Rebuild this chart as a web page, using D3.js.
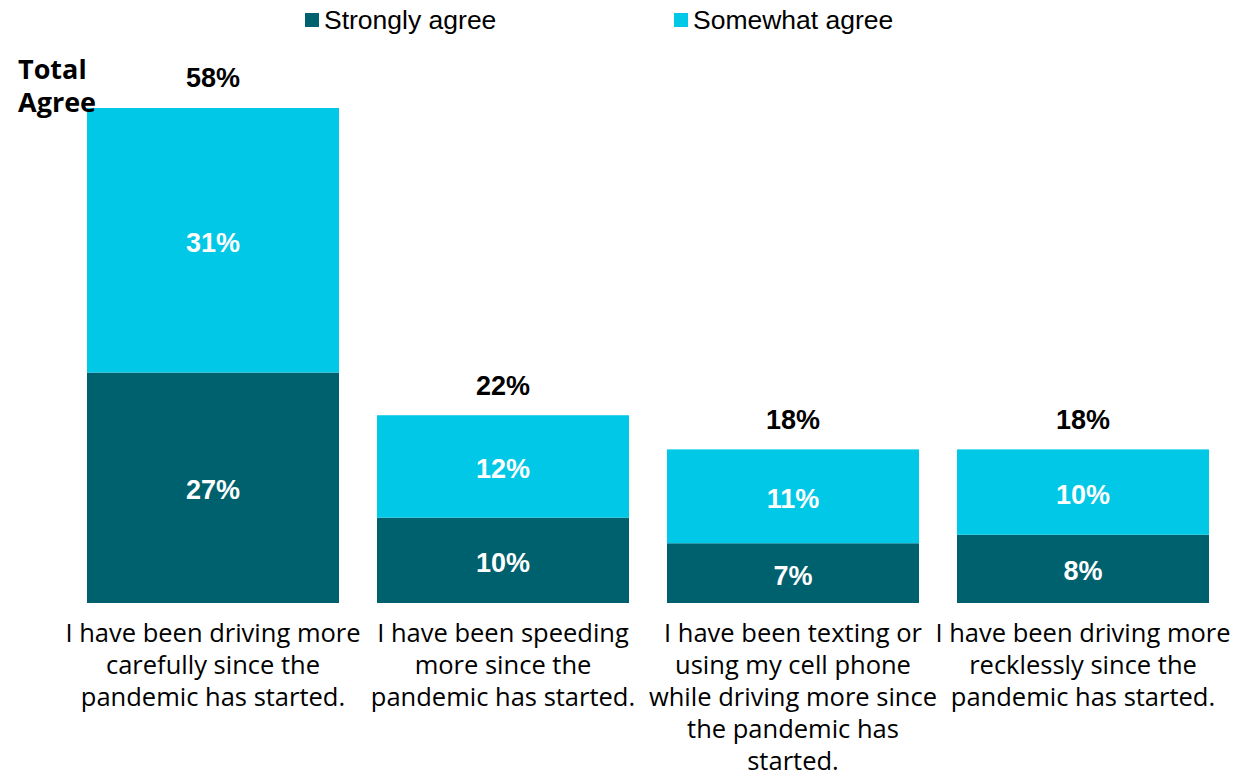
<!DOCTYPE html>
<html>
<head>
<meta charset="utf-8">
<script src="https://cdn.jsdelivr.net/npm/d3@7"></script>
<style>
  html, body { margin: 0; padding: 0; background: #ffffff; }
  svg { display: block; }
</style>
</head>
<body>
<svg id="chart" width="1250" height="776"></svg>
<script>
const categories = [
  "I have been driving more|carefully since the|pandemic has started.",
  "I have been speeding|more since the|pandemic has started.",
  "I have been texting or|using my cell phone|while driving more since|the pandemic has|started.",
  "I have been driving more|recklessly since the|pandemic has started."
];
const seriesNames = ["Strongly agree", "Somewhat agree"];
const stronglyAgree = [27, 10, 7, 8];
const somewhatAgree = [31, 12, 11, 10];
const totalAgree = [58, 22, 18, 18];
const colors = ["#00616E", "#00C8E6"];

const svg = d3.select("#chart");
const fontNum = "'Liberation Sans', Arial, sans-serif";
const fontCat = "'Open Sans', sans-serif";

const x = d3.scaleBand().domain(d3.range(categories.length))
  .range([68, 1228]).paddingInner(0.131).paddingOuter(0.0655);
const y = d3.scaleLinear().domain([0, 58]).range([603, 108]);

const data = categories.map((c, i) => ({ i, strongly: stronglyAgree[i], somewhat: somewhatAgree[i], total: totalAgree[i] }));
const stack = d3.stack().keys(["strongly", "somewhat"])(data);

const g = svg.append("g");
stack.forEach((layer, li) => {
  g.selectAll(null).data(layer).enter().append("rect")
    .attr("x", d => x(d.data.i))
    .attr("width", x.bandwidth())
    .attr("y", d => y(d[1]))
    .attr("height", d => y(d[0]) - y(d[1]))
    .attr("fill", colors[li]);
  g.selectAll(null).data(layer).enter().append("text")
    .attr("x", d => x(d.data.i) + x.bandwidth() / 2)
    .attr("y", d => (y(d[0]) + y(d[1])) / 2 + 2)
    .attr("dy", "0.35em")
    .attr("text-anchor", "middle")
    .attr("fill", "#ffffff")
    .attr("font-family", fontNum)
    .attr("font-weight", "bold")
    .attr("font-size", 27)
    .text(d => (d[1] - d[0]) + "%");
});

// totals
g.selectAll(null).data(data).enter().append("text")
  .attr("x", d => x(d.i) + x.bandwidth() / 2)
  .attr("y", d => y(d.total) - 30)
  .attr("dy", "0.35em")
  .attr("text-anchor", "middle")
  .attr("fill", "#000000")
  .attr("font-family", fontNum)
  .attr("font-weight", "bold")
  .attr("font-size", 27)
  .text(d => d.total + "%");

// Total Agree label
const ta = svg.append("text")
  .attr("font-family", fontCat).attr("font-weight", "bold").attr("font-size", 27)
  .attr("fill", "#000");
ta.append("tspan").attr("x", 18).attr("y", 79).text("Total");
ta.append("tspan").attr("x", 18).attr("y", 112).text("Agree");

// category labels
const xAxis = svg.append("g");
data.forEach(d => {
  const lines = categories[d.i].split("|");
  const t = xAxis.append("text")
    .attr("text-anchor", "middle")
    .attr("font-family", fontCat)
    .attr("font-size", 25.5)
    .attr("fill", "#000");
  lines.forEach((ln, k) => {
    t.append("tspan")
      .attr("x", x(d.i) + x.bandwidth() / 2)
      .attr("y", 642 + k * 32)
      .text(ln);
  });
});

// legend
const legendX = [305, 674];
const legend = svg.append("g");
seriesNames.forEach((s, i) => {
  legend.append("rect").attr("x", legendX[i]).attr("y", 13).attr("width", 14).attr("height", 14).attr("fill", colors[i]);
  legend.append("text").attr("x", legendX[i] + 19).attr("y", 20).attr("dy", "0.35em")
    .attr("font-family", fontNum).attr("font-size", 26.5).attr("fill", "#000").text(s);
});
</script>
</body>
</html>
